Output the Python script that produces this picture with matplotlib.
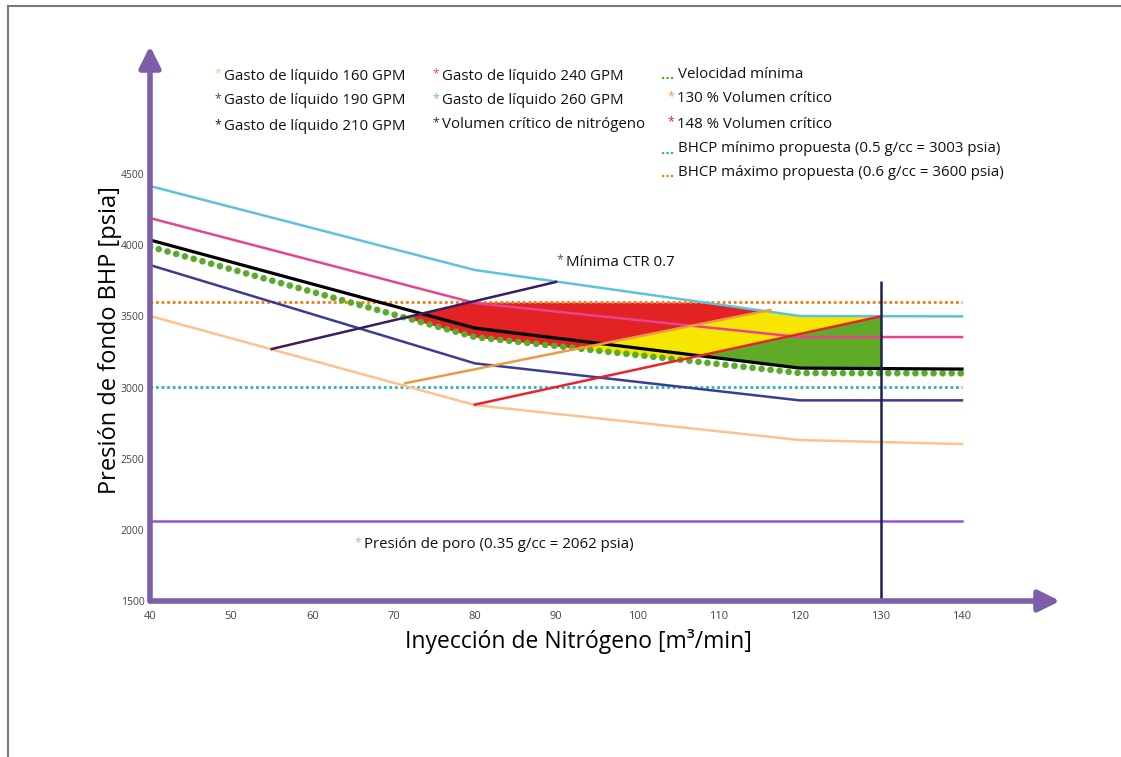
import numpy as np
import matplotlib.pyplot as plt
from matplotlib.lines import Line2D

# caudal de nitrogeno (nodos de las curvas)
x_nodos = [40, 80, 120, 140]
gasto_160 = [3503, 2877, 2631, 2603]
gasto_190 = [3861, 3170, 2910, 2910]
gasto_210 = [4037, 3418, 3137, 3130]
gasto_240 = [4191, 3594, 3355, 3355]
gasto_260 = [4416, 3826, 3503, 3500]
vel_minima = [3990, 3355, 3102, 3100]

# volumen critico y porcentajes (extremos)
vc_x = [55, 90]
vc_y = [3271, 3742]
vc130_x = [71.4, 116.4]
vc130_y = [3030, 3545]
vc148_x = [80, 130]
vc148_y = [2880, 3500]

bhcp_min = 3003
bhcp_max = 3600
presion_poro = 2062
x_lim_iny = 130
x_ticks = [40, 50, 60, 70, 80, 90, 100, 110, 120, 130, 140]
y_ticks = [1500, 2000, 2500, 3000, 3500, 4000, 4500]

W, H = 1121, 757
fig = plt.figure(figsize=(W / 100, H / 100), dpi=100)
plt.rcParams['font.family'] = ['Open Sans', 'DejaVu Sans']

ax = fig.add_axes([150 / W, 1 - 601 / H, 910 / W, 555 / H])
ax.set_xlim(40, 40 + 910 / 8.12)
ax.set_ylim(1500, 1500 + 555 / 0.1423)
for s in ax.spines.values():
    s.set_visible(False)

def recta(x, xs, ys):
    m = (ys[1] - ys[0]) / (xs[1] - xs[0])
    return ys[0] + m * (np.asarray(x) - xs[0])

xs = np.linspace(40, 140, 4001)
negro = np.interp(xs, x_nodos, gasto_210)
azul_cl = np.interp(xs, x_nodos, gasto_260)
vmin = np.interp(xs, x_nodos, vel_minima)
techo = np.minimum(bhcp_max, azul_cl)
l_vc = recta(xs, vc_x, vc_y)
l_130 = recta(xs, vc130_x, vc130_y)
l_148 = recta(xs, vc148_x, vc148_y)

# zona roja
up = np.minimum(techo, l_vc)
lo = np.maximum(vmin, l_130)
ax.fill_between(xs, lo, up, where=up > lo, interpolate=True, color='#e32224', lw=0, zorder=1)
# zona amarilla
up = np.minimum(techo, l_130)
lo = np.maximum(vmin, l_148)
ax.fill_between(xs, lo, up, where=up > lo, interpolate=True, color='#f7e600', lw=0, zorder=1)
# zona verde
up = np.minimum(techo, l_148)
lo = negro
ax.fill_between(xs, lo, up, where=(up > lo) & (xs <= x_lim_iny), interpolate=True,
                color='#5fab28', lw=0, zorder=1)

# lineas horizontales
ax.plot([40, 140], [bhcp_max, bhcp_max], color='#f07d10', lw=2, ls=(0, (1, 1)), zorder=3)
ax.plot([40, 140], [bhcp_min, bhcp_min], color='#2ab3b8', lw=2, ls=(0, (1, 1)), zorder=3)
ax.plot([40, 140], [presion_poro, presion_poro], color='#9b4fe3', lw=1.8, zorder=3)

# curvas de gasto
ax.plot(x_nodos, gasto_160, color='#fdc28e', lw=1.8, zorder=3)
ax.plot(x_nodos, gasto_190, color='#3a3d96', lw=1.8, zorder=3)
ax.plot(x_nodos, gasto_240, color='#e8438f', lw=1.8, zorder=3)
ax.plot(x_nodos, gasto_260, color='#5cc3dc', lw=1.8, zorder=3)
ax.plot(x_nodos, vel_minima, color='#5aab2a', lw=4.8, ls=(0, (0.01, 1.35)),
        dash_capstyle='round', zorder=3)
ax.plot(x_nodos, gasto_210, color='black', lw=2.3, zorder=4)

ax.plot(vc_x, vc_y, color='#3d1b5c', lw=1.8, zorder=4)
ax.plot(vc130_x, vc130_y, color='#ee9a45', lw=1.8, zorder=4)
ax.plot(vc148_x, vc148_y, color='#e8232b', lw=1.8, zorder=4)
ax.vlines(x_lim_iny, 1500, 3750, color='#1c2150', lw=1.8, zorder=4)

# ejes con flecha
eje = '#7d5ea8'
ax.annotate('', xy=(0, 1.0), xytext=(0, 0), xycoords='axes fraction',
            arrowprops=dict(arrowstyle='-|>', lw=4, color=eje, mutation_scale=32,
                            shrinkA=0, shrinkB=0), zorder=5)
ax.annotate('', xy=(1.0, 0), xytext=(0, 0), xycoords='axes fraction',
            arrowprops=dict(arrowstyle='-|>', lw=4, color=eje, mutation_scale=32,
                            shrinkA=0, shrinkB=0), zorder=5)

ax.set_xticks(x_ticks)
ax.set_yticks(y_ticks)
ax.tick_params(axis='x', length=0, labelsize=8, labelcolor='#444444', pad=7)
ax.tick_params(axis='y', length=0, labelsize=7.5, labelcolor='#444444', pad=4)

fig.text(110 / W, 1 - 340 / H, 'Presión de fondo BHP [psia]', rotation=90,
         ha='center', va='center', fontsize=17)
fig.text(578 / W, 1 - 641 / H, 'Inyección de Nitrógeno [m³/min]',
         ha='center', va='center', fontsize=16.5)

def etiqueta(px, py, marca, color, texto, size=10.8):
    fig.text(px / W, 1 - (py - 2) / H, marca, color=color, fontsize=size - 2,
             ha='left', va='center')
    fig.text((px + 10) / W, 1 - py / H, texto, color='#111111', fontsize=size,
             ha='left', va='center')

etiqueta(214, 76, '*', '#fdc28e', 'Gasto de líquido 160 GPM')
etiqueta(214, 101, '*', '#3a3d96', 'Gasto de líquido 190 GPM')
etiqueta(214, 127, '*', '#111111', 'Gasto de líquido 210 GPM')
etiqueta(432, 76, '*', '#e8438f', 'Gasto de líquido 240 GPM')
etiqueta(432, 101, '*', '#5cc3dc', 'Gasto de líquido 260 GPM')
etiqueta(432, 125, '*', '#3d1b5c', 'Volumen crítico de nitrógeno')
etiqueta(667, 99, '*', '#ee9a45', '130 % Volumen crítico')
etiqueta(667, 124, '*', '#e8232b', '148 % Volumen crítico')
etiqueta(556, 262, '*', '#5a4a7a', 'Mínima CTR 0.7')
etiqueta(354, 545, '*', '#c9a6e8', 'Presión de poro (0.35 g/cc = 2062 psia)')

def etiqueta_punteada(py, color, texto):
    y = 1 - (py + 4) / H
    fig.add_artist(Line2D([662 / W, 675 / W], [y, y], color=color, lw=1.6,
                          ls=(0, (1, 1))))
    fig.text(678 / W, 1 - py / H, texto, color='#111111', fontsize=10.8,
             ha='left', va='center')

etiqueta_punteada(74, '#5aab2a', 'Velocidad mínima')
etiqueta_punteada(149, '#2ab3b8', 'BHCP mínimo propuesta (0.5 g/cc = 3003 psia)')
etiqueta_punteada(172, '#f07d10', 'BHCP máximo propuesta (0.6 g/cc = 3600 psia)')

# marco
fig.add_artist(Line2D([8 / W, 8 / W], [0, 1 - 6 / H], color='#777777', lw=1.5))
fig.add_artist(Line2D([8 / W, 1], [1 - 6 / H, 1 - 6 / H], color='#777777', lw=1.5))

fig.savefig('out.png', dpi=100)
